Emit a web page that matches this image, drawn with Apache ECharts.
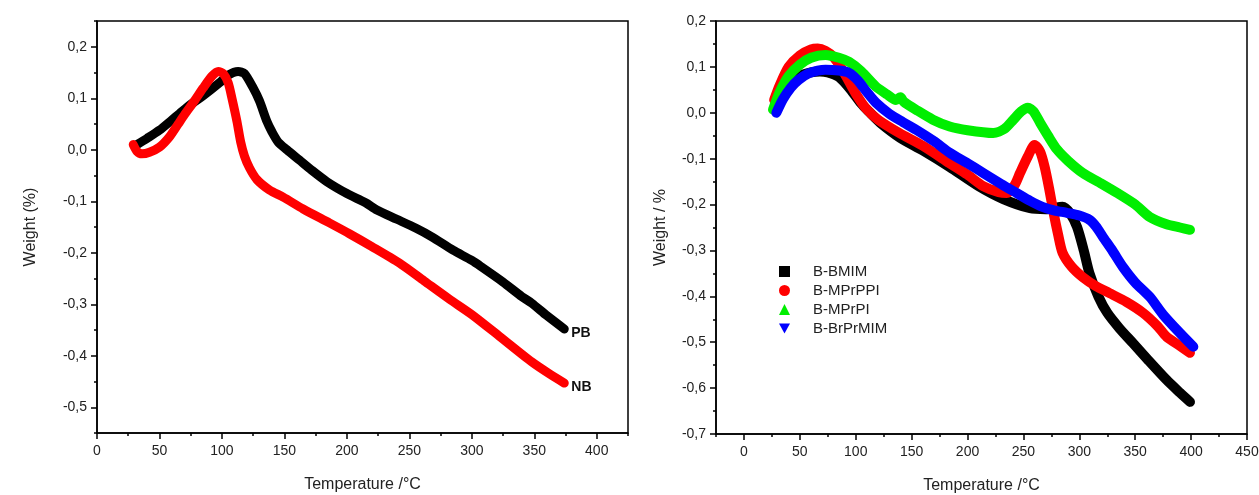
<!DOCTYPE html>
<html>
<head>
<meta charset="utf-8">
<script src="https://cdn.jsdelivr.net/npm/echarts@6/dist/echarts.min.js"></script>
<style>html,body{margin:0;padding:0;background:#fff;}#c{width:1259px;height:495px;}</style>
</head>
<body>
<div id="c"></div>
<script>
// ---------- Left panel data ----------
const leftXTicks = [0, 50, 100, 150, 200, 250, 300, 350, 400];
const leftYTicks = [-0.5, -0.4, -0.3, -0.2, -0.1, 0.0, 0.1, 0.2];
const PB = [[32,0.010],[40,0.022],[50,0.038],[60,0.058],[66,0.070],[75,0.088],[85,0.105],[98,0.130],[105,0.145],[113,0.152],[118,0.148],[125,0.120],[130,0.095],[136,0.055],[140,0.035],[145,0.015],[152,0.000],[162,-0.020],[172,-0.040],[184,-0.062],[200,-0.085],[215,-0.103],[224,-0.117],[240,-0.135],[255,-0.152],[268,-0.169],[285,-0.195],[300,-0.215],[308,-0.228],[325,-0.257],[340,-0.285],[348,-0.298],[360,-0.322],[374,-0.348]];
const NB = [[29,0.010],[32,-0.003],[36,-0.008],[42,-0.005],[50,0.005],[58,0.025],[65,0.050],[70,0.068],[78,0.095],[85,0.120],[92,0.143],[97,0.152],[101,0.148],[105,0.130],[108,0.100],[112,0.055],[115,0.015],[118,-0.012],[122,-0.035],[128,-0.058],[138,-0.078],[149,-0.092],[165,-0.115],[186,-0.142],[202,-0.163],[220,-0.188],[242,-0.220],[262,-0.255],[282,-0.290],[300,-0.320],[322,-0.362],[348,-0.412],[362,-0.435],[374,-0.453]];

// ---------- Right panel data ----------
const rightXTicks = [0, 50, 100, 150, 200, 250, 300, 350, 400, 450];
const rightYTicks = [-0.7, -0.6, -0.5, -0.4, -0.3, -0.2, -0.1, 0.0, 0.1, 0.2];
const rightNames = ['B-BMIM', 'B-MPrPPI', 'B-MPrPI', 'B-BrPrMIM'];
const BMIM = [[28,0.008],[32,0.030],[40,0.060],[50,0.080],[60,0.088],[68,0.090],[75,0.088],[85,0.078],[95,0.052],[105,0.020],[112,0.002],[122,-0.022],[140,-0.055],[160,-0.082],[184,-0.118],[210,-0.160],[232,-0.188],[256,-0.208],[270,-0.210],[285,-0.205],[292,-0.220],[298,-0.249],[304,-0.300],[309,-0.349],[317,-0.400],[325,-0.436],[336,-0.470],[348,-0.502],[362,-0.540],[378,-0.582],[390,-0.610],[399,-0.630]];
const MPrPPI = [[27,0.028],[32,0.060],[40,0.100],[50,0.125],[60,0.138],[66,0.140],[73,0.135],[80,0.122],[87,0.098],[94,0.068],[101,0.038],[109,0.010],[120,-0.015],[139,-0.044],[160,-0.072],[184,-0.110],[200,-0.135],[214,-0.160],[228,-0.173],[235,-0.175],[242,-0.158],[247,-0.131],[254,-0.095],[260,-0.070],[265,-0.085],[269,-0.118],[273,-0.165],[277,-0.218],[281,-0.265],[285,-0.305],[293,-0.335],[303,-0.358],[315,-0.378],[327,-0.393],[342,-0.412],[357,-0.436],[370,-0.465],[378,-0.488],[390,-0.508],[399,-0.523]];
const MPrPI = [[26,0.007],[32,0.045],[40,0.080],[50,0.105],[60,0.120],[73,0.126],[85,0.120],[94,0.111],[105,0.090],[118,0.057],[128,0.040],[136,0.028],[140,0.034],[143,0.024],[155,0.005],[169,-0.015],[184,-0.030],[200,-0.038],[223,-0.044],[233,-0.035],[241,-0.015],[248,0.003],[254,0.011],[259,0.003],[265,-0.022],[272,-0.050],[280,-0.080],[290,-0.105],[303,-0.131],[318,-0.152],[334,-0.175],[350,-0.200],[363,-0.227],[378,-0.243],[390,-0.250],[399,-0.255]];
const BrPrMIM = [[29,0.000],[35,0.030],[42,0.055],[49,0.072],[58,0.086],[66,0.092],[73,0.094],[85,0.092],[94,0.087],[102,0.070],[110,0.045],[118,0.022],[130,-0.002],[142,-0.020],[154,-0.037],[170,-0.062],[184,-0.087],[200,-0.110],[214,-0.131],[230,-0.155],[244,-0.175],[256,-0.192],[267,-0.205],[278,-0.213],[289,-0.218],[300,-0.224],[309,-0.233],[315,-0.248],[321,-0.270],[330,-0.302],[339,-0.336],[350,-0.370],[363,-0.401],[375,-0.440],[390,-0.480],[402,-0.510]];

const FONT = '"Liberation Sans", Arial, sans-serif';
const fmtY = v => { let r = Math.round(v * 10) / 10; if (Math.abs(r) < 1e-9) r = 0; return r.toFixed(1).replace('.', ','); };
const labelStyle = { color: '#222', fontSize: 14, fontFamily: FONT };
const nameStyle = { color: '#222', fontSize: 16, fontFamily: FONT };
const axisLine = { show: true, onZero: false, lineStyle: { color: '#000', width: 1.5 } };

function majorX(grid, min, max, ticks, name) {
  return { type: 'value', gridIndex: grid, min, max, name, nameLocation: 'middle', nameGap: 44, nameTextStyle: nameStyle,
    axisLine, splitLine: { show: false },
    axisTick: { show: true, inside: false, length: 6, lineStyle: { color: '#000', width: 1.5 }, customValues: ticks },
    axisLabel: { show: true, margin: 11, ...labelStyle, customValues: ticks, formatter: v => String(v) } };
}
function minorX(grid, min, max, interval) {
  return { type: 'value', gridIndex: grid, min, max, interval, position: 'bottom',
    axisLine: { show: false, onZero: false }, splitLine: { show: false },
    axisTick: { show: true, length: 3, lineStyle: { color: '#000', width: 1.5 } }, axisLabel: { show: false } };
}
function majorY(grid, min, max, ticks, name, gap) {
  return { type: 'value', gridIndex: grid, min, max, name, nameLocation: 'middle', nameGap: gap, nameTextStyle: nameStyle,
    axisLine, splitLine: { show: false },
    axisTick: { show: true, length: 6, lineStyle: { color: '#000', width: 1.5 }, customValues: ticks },
    axisLabel: { show: true, margin: 10, ...labelStyle, customValues: ticks, formatter: fmtY } };
}
function minorY(grid, min, max, interval) {
  return { type: 'value', gridIndex: grid, min, max, interval, position: 'left',
    axisLine: { show: false, onZero: false }, splitLine: { show: false },
    axisTick: { show: true, length: 3, lineStyle: { color: '#000', width: 1.5 } }, axisLabel: { show: false } };
}
function line(name, data, color, xi, yi, w, extra) {
  return Object.assign({ type: 'line', name, data, xAxisIndex: xi, yAxisIndex: yi, showSymbol: false, symbol: 'none',
    smooth: 0.25, lineStyle: { color, width: w, cap: 'round', join: 'round' }, itemStyle: { color }, animation: false, z: 3 }, extra || {});
}
const endLbl = { show: true, formatter: '{a}', color: '#111', fontWeight: 'bold', fontSize: 14, fontFamily: FONT, distance: 7, offset: [0, 4] };

const legendIcons = ['rect', 'circle', 'triangle', 'path://M0,0L10,0L5,9Z'];
const colors = ['#000000', '#ff0000', '#00ee00', '#0000ff'];

const option = {
  backgroundColor: '#fff',
  animation: false,
  grid: [
    { left: 97, top: 21, width: 531, height: 412, show: true, borderColor: '#000', borderWidth: 1.5, backgroundColor: 'transparent', containLabel: false, outerBoundsMode: 'none' },
    { left: 716, top: 21, width: 531, height: 413, show: true, borderColor: '#000', borderWidth: 1.5, backgroundColor: 'transparent', containLabel: false, outerBoundsMode: 'none' }
  ],
  xAxis: [
    majorX(0, 0, 425, leftXTicks, 'Temperature /°C'),
    minorX(0, 0, 425, 25),
    majorX(1, -25, 450, rightXTicks, 'Temperature /°C'),
    minorX(1, -25, 450, 25)
  ],
  yAxis: [
    majorY(0, -0.55, 0.25, leftYTicks, 'Weight (%)', 58),
    minorY(0, -0.55, 0.25, 0.05),
    majorY(1, -0.7, 0.2, rightYTicks, 'Weight / %', 47),
    minorY(1, -0.7, 0.2, 0.05)
  ],
  legend: {
    orient: 'vertical', left: 774, top: 259, itemGap: 4, itemWidth: 11, itemHeight: 11,
    selectedMode: false,
    textStyle: { color: '#222', fontSize: 15, fontFamily: FONT, padding: [0, 0, 0, 18] },
    data: rightNames.map((n, i) => ({ name: n, icon: legendIcons[i], itemStyle: { color: colors[i] } }))
  },
  series: [
    line('PB', PB, '#000000', 0, 0, 9, { endLabel: endLbl }),
    line('NB', NB, '#ff0000', 0, 0, 9, { endLabel: endLbl }),
    line(rightNames[0], BMIM, colors[0], 2, 2, 10),
    line(rightNames[1], MPrPPI, colors[1], 2, 2, 10),
    line(rightNames[2], MPrPI, colors[2], 2, 2, 10),
    line(rightNames[3], BrPrMIM, colors[3], 2, 2, 10)
  ]
};
const chart = echarts.init(document.getElementById('c'), null, { renderer: 'canvas' });
chart.setOption(option);
</script>
</body>
</html>
